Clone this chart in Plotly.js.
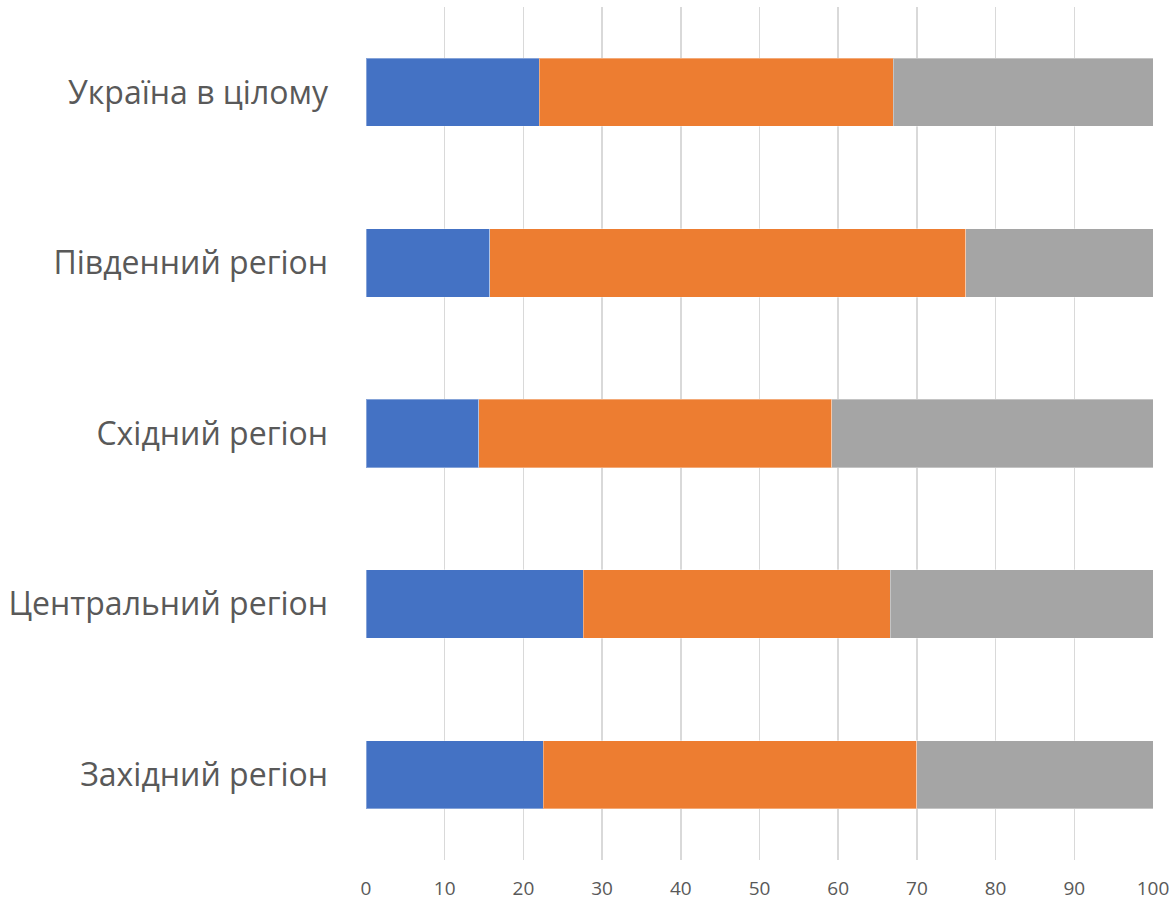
<!DOCTYPE html>
<html><head><meta charset="utf-8">
<script src="https://cdn.plot.ly/plotly-3.0.1.min.js"></script>
<style>html,body{margin:0;padding:0;background:#fff}#chart{width:1176px;height:904px}</style>
</head><body><div id="chart"></div>
<script>
const categories = ["Західний регіон", "Центральний регіон", "Східний регіон", "Південний регіон", "Україна в цілому"];
const series1 = [22.5, 27.6, 14.3, 15.7, 22.0];
const series2 = [47.5, 39.0, 44.9, 60.5, 45.0];
const series3 = [30.0, 33.4, 40.8, 23.8, 33.0];
const xTicks = [0, 10, 20, 30, 40, 50, 60, 70, 80, 90, 100];

const colors = ["#4472C4", "#ED7D31", "#A5A5A5"];
const edge = {color: "rgba(255,255,255,0.35)", width: 1};
const data = [series1, series2, series3].map((v, i) => ({
  type: "bar", orientation: "h", y: categories, x: v,
  marker: {color: colors[i], line: edge}, hoverinfo: "x+y"
}));

const layout = {
  width: 1176, height: 904,
  margin: {l: 366, r: 23, t: 7, b: 44},
  barmode: "stack", bargap: 0.6,
  showlegend: false,
  paper_bgcolor: "#fff", plot_bgcolor: "#fff",
  font: {family: "Open Sans, Noto Sans, sans-serif", color: "#595959"},
  xaxis: {range: [0, 100], tickvals: xTicks, showgrid: true, gridcolor: "#D9D9D9", gridwidth: 1.5,
          zeroline: false, showline: false, ticks: "", tickfont: {size: 19, color: "#595959"}, ticklabelstandoff: 15},
  yaxis: {showgrid: false, zeroline: false, showline: false, ticks: "", tickfont: {size: 32, color: "#595959"},
          ticklabelstandoff: 37}
};
Plotly.newPlot("chart", data, layout, {staticPlot: true});
</script></body></html>
